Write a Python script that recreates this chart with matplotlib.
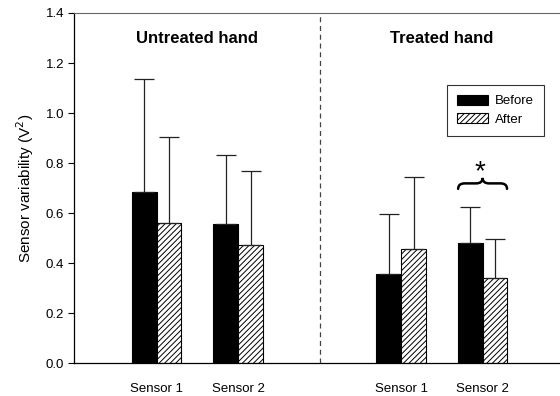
import numpy as np
import matplotlib.pyplot as plt
from matplotlib.path import Path
from matplotlib.patches import PathPatch

plt.rcParams['font.family'] = ['Liberation Sans', 'DejaVu Sans']
plt.rcParams['hatch.linewidth'] = 0.7

# Sensor variability (mean and SD) before/after, untreated vs treated hand
groups = ['Untreated hand', 'Treated hand']
sensors = ['Sensor 1', 'Sensor 2', 'Sensor 1', 'Sensor 2']
before_mean = [0.685, 0.555, 0.357, 0.480]
before_sd = [0.450, 0.278, 0.240, 0.146]
after_mean = [0.562, 0.474, 0.455, 0.340]
after_sd = [0.343, 0.295, 0.290, 0.158]

x = np.array([1, 2, 4, 5])
width = 0.305

fig = plt.figure(figsize=(5.6, 3.96), dpi=100)
ax = fig.add_axes([0.132, 0.0826, 0.868, 0.8846])

ax.bar(x - width / 2, before_mean, width, color='black', edgecolor='black',
       linewidth=0.8, label='Before')
ax.bar(x + width / 2, after_mean, width, color='white', edgecolor='black',
       hatch='//////', linewidth=0.8, label='After')

# one-sided error bars
err_kw = dict(fmt='none', ecolor='#222222', elinewidth=0.9, capsize=7, capthick=0.9)
ax.errorbar(x - width / 2, before_mean, yerr=[np.zeros(4), before_sd], **err_kw)
ax.errorbar(x + width / 2, after_mean, yerr=[np.zeros(4), after_sd], **err_kw)

# separator between hands
ax.axvline(3, color='#444444', linestyle=(0, (4, 3)), linewidth=0.9)

ax.set_xlim(-0.015, 5.95)
ax.set_ylim(0, 1.4)
ax.set_yticks(np.arange(0, 1.41, 0.2))
ax.set_yticklabels([f'{v:.1f}' for v in np.arange(0, 1.41, 0.2)], fontsize=9.5)
ax.set_xticks(x)
ax.set_xticklabels(sensors, fontsize=9.5)
ax.tick_params(axis='x', length=0, pad=14)
ax.tick_params(axis='y', direction='out', length=4, width=0.8, pad=3)
ax.set_ylabel('Sensor variability (V$^2$)', fontsize=11, labelpad=7)

ax.spines['right'].set_visible(False)
ax.spines['top'].set_color('#666666')
for s in ['left', 'bottom']:
    ax.spines[s].set_linewidth(0.9)

ax.text(1.5, 1.30, groups[0], ha='center', va='center', fontsize=12, fontweight='bold')
ax.text(4.5, 1.30, groups[1], ha='center', va='center', fontsize=12, fontweight='bold')

leg = ax.legend(loc='upper left', bbox_to_anchor=(446.7 / 560, 1 - 85 / 396),
                bbox_transform=fig.transFigure, fontsize=9.5, frameon=True,
                fancybox=False, borderaxespad=0, handlelength=2.4,
                handleheight=0.75, handletextpad=0.5, labelspacing=0.45,
                borderpad=0.75)
leg.get_frame().set_edgecolor('black')
leg.get_frame().set_linewidth(0.8)

# significance brace over treated Sensor 2
xm, half, yb, h = x[3], 0.3, 0.697, 0.044
verts = [(xm - half, yb), (xm - half, yb + h / 2), (xm - half + 0.08, yb + h / 2),
         (xm - 0.08, yb + h / 2), (xm, yb + h / 2), (xm, yb + h),
         (xm, yb + h / 2), (xm + 0.08, yb + h / 2),
         (xm + half - 0.08, yb + h / 2), (xm + half, yb + h / 2), (xm + half, yb)]
codes = [Path.MOVETO, Path.CURVE3, Path.CURVE3, Path.LINETO, Path.CURVE3, Path.CURVE3,
         Path.CURVE3, Path.CURVE3, Path.LINETO, Path.CURVE3, Path.CURVE3]
ax.add_patch(PathPatch(Path(verts, codes), facecolor='none', edgecolor='black',
                       linewidth=1.8, capstyle='round'))
ax.text(xm - 0.03, 0.765, '*', ha='center', va='center', fontsize=20)

fig.savefig('out.png', dpi=100)
